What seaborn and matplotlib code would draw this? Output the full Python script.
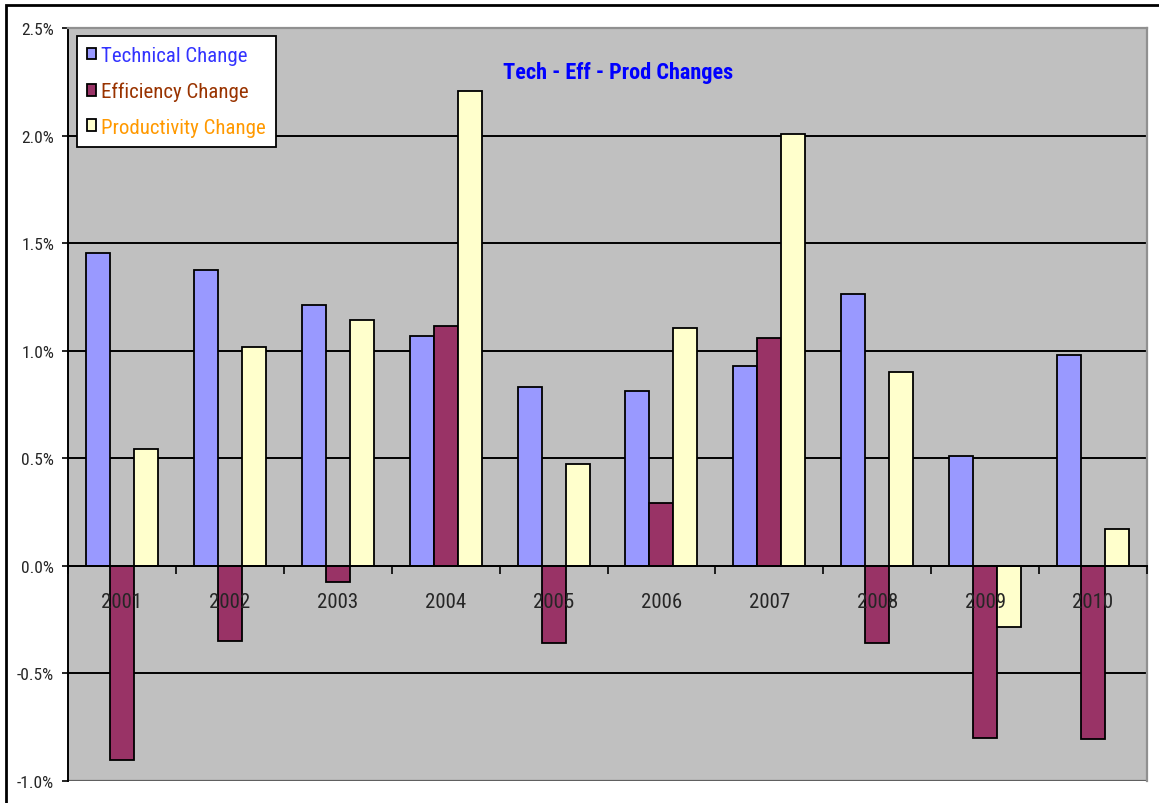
import matplotlib
matplotlib.use("Agg")
import matplotlib.pyplot as plt
from matplotlib.patches import Rectangle
from matplotlib.ticker import FuncFormatter, FixedLocator
import seaborn as sns
import pandas as pd

years = ["2001", "2002", "2003", "2004", "2005", "2006", "2007", "2008", "2009", "2010"]
series_names = ["Technical Change", "Efficiency Change", "Productivity Change"]
technical = [1.456, 1.377, 1.214, 1.070, 0.833, 0.814, 0.930, 1.265, 0.512, 0.981]
efficiency = [-0.902, -0.349, -0.073, 1.116, -0.358, 0.293, 1.060, -0.358, -0.799, -0.805]
productivity = [0.544, 1.019, 1.144, 2.205, 0.474, 1.107, 2.009, 0.902, -0.284, 0.172]
yticks = [-1.0, -0.5, 0.0, 0.5, 1.0, 1.5, 2.0, 2.5]

bar_colors = ["#9999FF", "#993366", "#FFFFCC"]
text_colors = ["#3333FF", "#993300", "#FF9900"]

rows = []
for name, vals in zip(series_names, [technical, efficiency, productivity]):
    for y, v in zip(years, vals):
        rows.append({"Year": y, "Series": name, "Value": v})
df = pd.DataFrame(rows)

sns.set_style("white")
narrow = ["Roboto Condensed", "Liberation Sans", "DejaVu Sans"]
plt.rcParams["font.family"] = narrow

fig = plt.figure(figsize=(11.59, 8.04), dpi=100)
ax = fig.add_axes([68 / 1159, 22 / 804, 1079 / 1159, 753 / 804])
ax.set_facecolor("#C0C0C0")

sns.barplot(data=df, x="Year", y="Value", hue="Series", palette=bar_colors,
            width=0.667, edgecolor="black", linewidth=1.3, saturation=1,
            ax=ax, legend=True)

ax.set_xlim(-0.5, len(years) - 0.5)
ax.set_ylim(yticks[0], yticks[-1])
ax.set_yticks(yticks)
ax.yaxis.set_major_formatter(FuncFormatter(lambda v, p: f"{v:.1f}%"))
ax.grid(axis="y", color="black", linewidth=1.4)
ax.set_axisbelow(True)
ax.yaxis.set_zorder(0.5)
ax.xaxis.set_zorder(3)
ax.set_xlabel("")
ax.set_ylabel("")

# spines
ax.spines["bottom"].set_position(("data", 0))
ax.spines["bottom"].set_color("black")
ax.spines["bottom"].set_linewidth(1.4)
ax.spines["left"].set_color("black")
ax.spines["left"].set_linewidth(1.4)
for s in ["top", "right"]:
    ax.spines[s].set_color("#909090")
    ax.spines[s].set_linewidth(1.6)
ax.axhline(yticks[0], color="#606060", linewidth=1.6, zorder=0.6)

ax.tick_params(axis="y", which="major", direction="out", length=4, width=1.2,
               color="black", labelsize=12.5, pad=6, left=True)
ax.tick_params(axis="x", which="major", length=0, labelsize=15, pad=19)
ax.xaxis.set_minor_locator(FixedLocator([i - 0.5 for i in range(len(years) + 1)]))
ax.tick_params(axis="x", which="minor", direction="out", length=6, width=1.2,
               color="black", bottom=True)

ax.text(0.51, 0.942, "Tech - Eff - Prod Changes", transform=ax.transAxes,
        ha="center", va="center", fontsize=16, fontweight="bold", color="#0000FF")

leg = ax.legend(loc="upper left", bbox_to_anchor=(0.008, 0.99), frameon=True,
                fancybox=False, framealpha=1, edgecolor="black", fontsize=15,
                handlelength=0.45, handleheight=0.5, handletextpad=0.2,
                labelspacing=0.8, borderpad=0.5, borderaxespad=0)
leg.get_frame().set_linewidth(1.3)
for t, c in zip(leg.get_texts(), text_colors):
    t.set_color(c)

# figure frame
fig.patches.append(Rectangle((6 / 1159, -0.1), 1.2, (798 / 804) + 0.1,
                             transform=fig.transFigure, fill=False,
                             edgecolor="black", linewidth=2, zorder=0))

fig.savefig("out.png", dpi=100)
